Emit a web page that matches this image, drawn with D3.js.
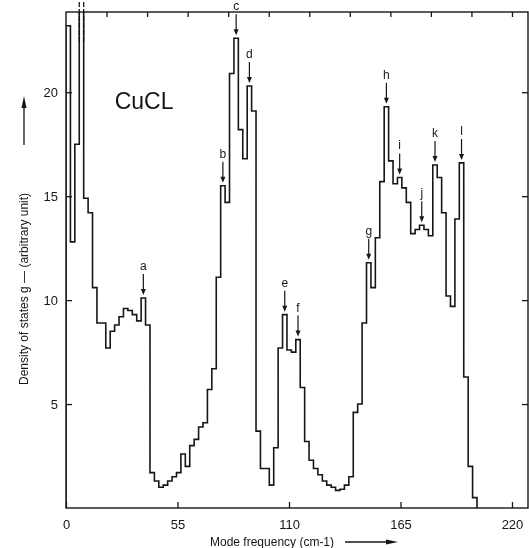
<!DOCTYPE html>
<html>
<head>
<meta charset="utf-8">
<script src="https://cdn.jsdelivr.net/npm/d3@7"></script>
<style>
  body { margin: 0; background: #fff; }
  svg { display: block; font-family: "Liberation Sans", Arial, sans-serif; will-change: transform; }
  text { -webkit-font-smoothing: antialiased; }
</style>
</head>
<body>
<div id="chart"></div>
<script>
// histogram of the density of states, one value per bin
const binWidth = 2.18;
const dosValues = [
  23.2, 12.8, 17.5, 26.0, 14.9, 14.2, 10.6, 8.9, 8.9, 7.7,
  8.5, 8.8, 9.2, 9.6, 9.5, 9.3, 9.0, 10.1, 8.8, 1.7,
  1.3, 1.0, 1.1, 1.3, 1.5, 1.7, 2.6, 2.0, 3.0, 3.3,
  3.9, 4.1, 5.7, 6.7, 11.1, 15.5, 14.7, 20.9, 22.6, 18.2,
  16.8, 20.3, 19.1, 3.7, 1.9, 1.9, 1.1, 2.9, 7.7, 9.3,
  7.6, 7.5, 8.1, 5.8, 3.2, 2.3, 1.9, 1.6, 1.3, 1.1,
  1.0, 0.85, 0.9, 1.1, 1.5, 4.6, 5.0, 8.9, 11.8, 10.6,
  13.0, 15.7, 19.3, 16.7, 15.6, 15.9, 15.4, 14.7, 13.2, 13.4,
  13.6, 13.4, 13.1, 16.5, 15.9, 14.2, 10.2, 9.7, 13.9, 16.6,
  6.3, 2.0, 0.5
];
const offScaleBin = 3;

// marked peaks
const peakLetters = ["a", "b", "c", "d", "e", "f", "g", "h", "i", "j", "k", "l"];
const peakBins = [17, 35, 38, 41, 49, 52, 68, 72, 75, 80, 83, 89];

const xTicks = [0, 55, 110, 165, 220];
const yTicks = [5, 10, 15, 20];
const topTicks = [20, 40, 60, 80, 100, 120, 140, 160, 180, 200, 220];

const width = 529;
const height = 548;
const margin = { top: 12, right: 1, bottom: 40, left: 66 };
const chartWidth = width - margin.left - margin.right;
const chartHeight = height - margin.top - margin.bottom;

const svg = d3.select("#chart").append("svg")
  .attr("width", width)
  .attr("height", height);

const g = svg.append("g")
  .attr("transform", `translate(${margin.left},${margin.top})`);

const x = d3.scaleLinear().domain([0, 227.9]).range([0, chartWidth]);
const y = d3.scaleLinear().domain([0, 23.86]).range([chartHeight, 0]);

const ink = "#161616";

svg.append("defs").append("clipPath").attr("id", "plot")
  .append("rect").attr("width", chartWidth).attr("height", chartHeight);

// frame
g.append("rect")
  .attr("width", chartWidth)
  .attr("height", chartHeight)
  .attr("fill", "none")
  .attr("stroke", ink)
  .attr("stroke-width", 1.4);

// axes (ticks pointing inward)
const bottomAxis = g.append("g")
  .attr("transform", `translate(0,${chartHeight})`)
  .call(d3.axisBottom(x).tickValues(xTicks).tickSize(-6).tickPadding(12));
const leftAxis = g.append("g")
  .call(d3.axisLeft(y).tickValues(yTicks).tickSize(-6).tickPadding(8));
const rightAxis = g.append("g")
  .attr("transform", `translate(${chartWidth},0)`)
  .call(d3.axisRight(y).tickValues(yTicks).tickSize(-6).tickFormat(""));
const topAxis = g.append("g")
  .call(d3.axisTop(x).tickValues(topTicks).tickSize(-5).tickFormat(""));

[bottomAxis, leftAxis, rightAxis, topAxis].forEach((a) => {
  a.select(".domain").remove();
  a.selectAll("line").attr("stroke", ink).attr("stroke-width", 1.3);
  a.selectAll("text")
    .attr("fill", ink)
    .style("font-size", "13px");
});

// step histogram
const pts = [[0, 0]];
dosValues.forEach((v, i) => {
  pts.push([i * binWidth, v]);
  pts.push([(i + 1) * binWidth, v]);
});
pts.push([dosValues.length * binWidth, 0]);

g.append("path")
  .datum(pts)
  .attr("clip-path", "url(#plot)")
  .attr("fill", "none")
  .attr("stroke", ink)
  .attr("stroke-width", 1.6)
  .attr("d", d3.line().x((d) => x(d[0])).y((d) => y(d[1])));

// off-scale bar continues as dashes above the frame
[offScaleBin, offScaleBin + 1].forEach((b) => {
  g.append("line")
    .attr("x1", x(b * binWidth))
    .attr("x2", x(b * binWidth))
    .attr("y1", 30)
    .attr("y2", -12)
    .attr("stroke", ink)
    .attr("stroke-width", 1.3)
    .attr("stroke-dasharray", "5 2");
});

// arrows marking peaks
const ann = g.selectAll("g.peak")
  .data(peakBins.map((b, i) => ({ bin: b, letter: peakLetters[i] })))
  .join("g")
  .attr("class", "peak")
  .attr("transform", (d) =>
    `translate(${x((d.bin + 0.5) * binWidth)},${y(dosValues[d.bin])})`);

ann.append("line")
  .attr("y1", -24)
  .attr("y2", -8)
  .attr("stroke", ink)
  .attr("stroke-width", 1.2);
ann.append("path")
  .attr("d", "M-2.5,-9 L2.5,-9 L0,-3 Z")
  .attr("fill", ink);
ann.append("text")
  .attr("y", -28)
  .attr("text-anchor", "middle")
  .attr("fill", ink)
  .style("font-size", "12px")
  .text((d) => d.letter);

// compound label
g.append("text")
  .attr("x", x(24))
  .attr("y", y(19.2))
  .attr("fill", ink)
  .style("font-size", "23px")
  .text("CuCL");

// x axis title with arrow
svg.append("text")
  .attr("x", 210)
  .attr("y", 546)
  .attr("fill", ink)
  .style("font-size", "12px")
  .text("Mode frequency (cm-1)");
svg.append("line")
  .attr("x1", 345).attr("x2", 390)
  .attr("y1", 542).attr("y2", 542)
  .attr("stroke", ink).attr("stroke-width", 1.3);
svg.append("path")
  .attr("d", "M386,539.5 L398,542 L386,544.5 Z")
  .attr("fill", ink);

// y axis title with arrow
svg.append("text")
  .attr("transform", "translate(28,385) rotate(-90)")
  .attr("fill", ink)
  .style("font-size", "12px")
  .text("Density of states g — (arbitrary unit)");
svg.append("line")
  .attr("x1", 24).attr("x2", 24)
  .attr("y1", 145).attr("y2", 104)
  .attr("stroke", ink).attr("stroke-width", 1.3);
svg.append("path")
  .attr("d", "M21.5,108 L24,96 L26.5,108 Z")
  .attr("fill", ink);
</script>
</body>
</html>
